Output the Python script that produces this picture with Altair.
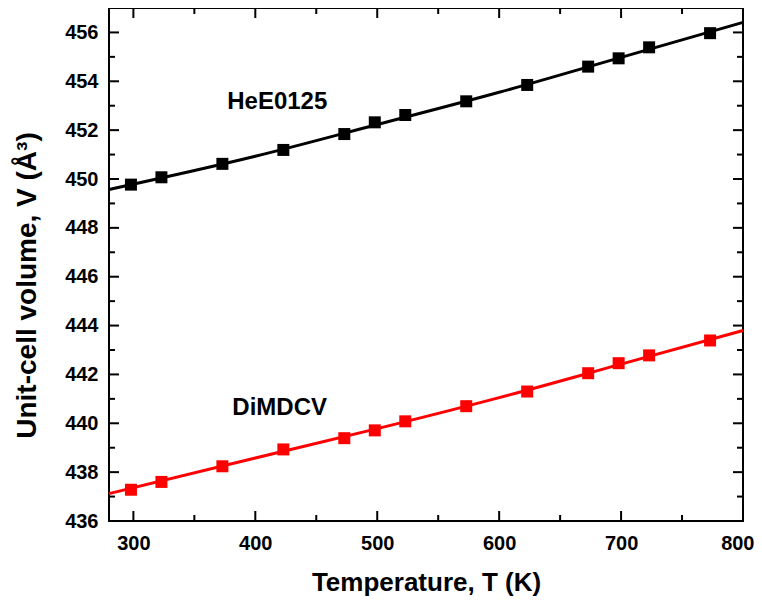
import altair as alt
import pandas as pd

# ---- data ----
T_points = [298, 323, 373, 423, 473, 498, 523, 573, 623, 673, 698, 723, 773]
V_HeE0125 = [449.77, 450.07, 450.62, 451.19, 451.84, 452.32, 452.62, 453.18, 453.85, 454.60, 454.94, 455.39, 455.97]
V_DiMDCV = [437.28, 437.60, 438.24, 438.93, 439.39, 439.71, 440.08, 440.70, 441.30, 442.05, 442.46, 442.78, 443.39]

T_fit = [280, 400, 500, 600, 700, 800]
V_fit_HeE0125 = [449.57, 450.93, 452.23, 453.55, 454.98, 456.41]
V_fit_DiMDCV = [437.12, 438.58, 439.78, 441.05, 442.42, 443.80]

series_names = ["HeE0125", "DiMDCV"]
series_colors = ["#000000", "#ff0000"]

x_major = [300, 400, 500, 600, 700, 800]
x_minor = [350, 450, 550, 650, 750]
y_major = [436, 438, 440, 442, 444, 446, 448, 450, 452, 454, 456]
y_minor = [437, 439, 441, 443, 445, 447, 449, 451, 453, 455]

# ---- tables ----
pts = pd.DataFrame({
    "T": T_points * 2,
    "V": V_HeE0125 + V_DiMDCV,
    "series": [series_names[0]] * len(T_points) + [series_names[1]] * len(T_points),
})
fit = pd.DataFrame({
    "T": T_fit * 2,
    "V": V_fit_HeE0125 + V_fit_DiMDCV,
    "series": [series_names[0]] * len(T_fit) + [series_names[1]] * len(T_fit),
})
labels = pd.DataFrame({"T": [418, 420], "V": [453.16, 440.64], "name": series_names})

W, H = 634, 513
FONT = "Liberation Sans"

xscale = alt.Scale(domain=[280, 800], nice=False, zero=False)
yscale = alt.Scale(domain=[436, 457], nice=False, zero=False)
color = alt.Color("series:N", scale=alt.Scale(domain=series_names, range=series_colors), legend=None)

xaxis = alt.Axis(
    values=x_major, format="d", title="Temperature, T (K)",
    ticks=False, tickSize=0, domain=False, grid=False,
    labelPadding=22, labelBaseline="middle", labelFlush=True, labelFlushOffset=11,
    titleFontSize=26,
    titleX=W / 2, titleY=61, titleBaseline="middle", titleAlign="center")
yaxis = alt.Axis(
    values=y_major, format="d", title="Unit-cell volume, V (Å³)",
    ticks=False, tickSize=0, domain=False, grid=False,
    labelPadding=11, labelFlush=False,
    titleFontSize=28,
    titleAngle=270, titleX=-82, titleY=277, titleBaseline="middle", titleAlign="center")

X = alt.X("T:Q", scale=xscale, axis=xaxis)
Y = alt.Y("V:Q", scale=yscale, axis=yaxis)

lines = alt.Chart(fit).mark_line(strokeWidth=3, interpolate="monotone").encode(x=X, y=Y, color=color)

points = alt.Chart(pts).mark_point(shape="square", filled=True, size=144, opacity=1).encode(
    x=X, y=Y, color=color)

text = alt.Chart(labels).mark_text(font=FONT, fontSize=24, fontWeight="bold", color="black").encode(
    x=X, y=Y, text="name:N")

def xticks(vals, length):
    d = pd.DataFrame({"T": vals})
    base = alt.Chart(d).mark_rule(color="black", strokeWidth=2)
    bottom = base.encode(x=X, y=alt.value(H), y2=alt.value(H - length))
    top = base.encode(x=X, y=alt.value(0), y2=alt.value(length))
    return [bottom, top]

def yticks(vals, length):
    d = pd.DataFrame({"V": vals})
    base = alt.Chart(d).mark_rule(color="black", strokeWidth=2)
    left = base.encode(y=Y, x=alt.value(0), x2=alt.value(length))
    right = base.encode(y=Y, x=alt.value(W), x2=alt.value(W - length))
    return [left, right]

tick_layers = xticks(x_major, 10) + xticks(x_minor, 6) + yticks(y_major, 10) + yticks(y_minor, 6)

chart = alt.layer(lines, points, text, *tick_layers).properties(
    width=W, height=H,
    autosize=alt.AutoSizeParams(type="none"),
    padding={"left": 101, "top": 0, "right": 11, "bottom": 83},
).configure_view(
    stroke="black", strokeWidth=2,
).configure_axis(
    labelFont=FONT, labelFontSize=20, labelFontWeight="bold", labelColor="black",
    titleFont=FONT, titleFontWeight="bold", titleColor="black",
)

chart.save("out.html", embed_options={"renderer": "svg", "actions": False})
